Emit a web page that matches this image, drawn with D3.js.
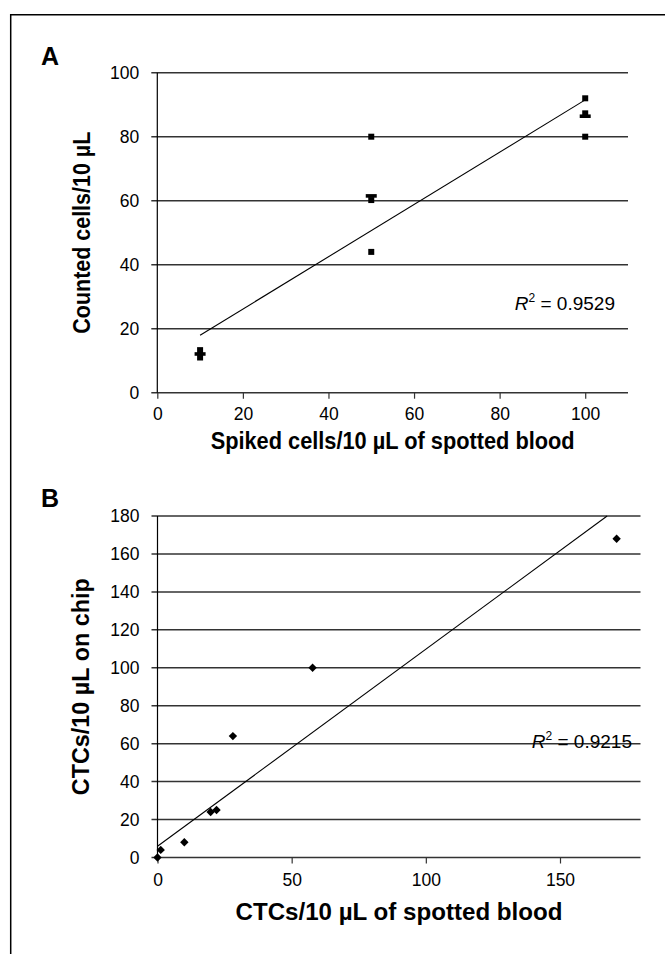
<!DOCTYPE html>
<html><head><meta charset="utf-8">
<script src="https://cdn.jsdelivr.net/npm/d3@7"></script>
<style>
html,body{margin:0;padding:0;background:#fff;}
svg{display:block;font-family:"Liberation Sans",Arial,Helvetica,sans-serif;}
</style></head>
<body>
<svg id="c" width="665" height="954"></svg>
<script>
// ---------- Panel A data ----------
const aX = [10, 10, 10, 50, 50, 50, 50, 100, 100, 100, 100];
const aY = [13.3, 11.0, 12.1, 80, 61.5, 60.2, 44, 92, 87.3, 86.4, 80];
const aMarker = ["square","square","dash","square","dash","square","square","square","square","dash","square"];
const aXTicks = [0, 20, 40, 60, 80, 100];
const aYTicks = [0, 20, 40, 60, 80, 100];
const aXDomain = [0, 110];
const aYDomain = [0, 100];
const aFitSlope = 0.817, aFitIntercept = 9.8, aFitRange = [10, 100];
const aR2 = "0.9529";

// ---------- Panel B data ----------
const bX = [0, 1.2, 10, 19.8, 22, 28.1, 57.8, 171.1];
const bY = [0, 4, 8, 24, 25, 64, 100, 168];
const bXTicks = [0, 50, 100, 150];
const bYTicks = [0, 20, 40, 60, 80, 100, 120, 140, 160, 180];
const bXDomain = [0, 180];
const bYDomain = [0, 180];
const bFitSlope = 1.039, bFitIntercept = 5.9;
const bR2 = "0.9215";

const svg = d3.select("#c");

// outer frame (left and top edges)
svg.append("path").attr("d", "M10.7,954 L10.7,14.7 L665,14.7")
  .attr("fill", "none").attr("stroke", "#000").attr("stroke-width", 1.5);

function panel(cfg) {
  const x = d3.scaleLinear().domain(cfg.xDomain).range(cfg.xRange);
  const y = d3.scaleLinear().domain(cfg.yDomain).range(cfg.yRange);
  const g = svg.append("g");

  // horizontal gridlines (extend left as tick marks)
  g.selectAll("line.grid").data(cfg.yTicks).enter().append("line")
    .attr("x1", cfg.xRange[0] - 6).attr("x2", cfg.xRange[1])
    .attr("y1", d => y(d)).attr("y2", d => y(d))
    .attr("stroke", "#333").attr("stroke-width", 1.5);

  // y axis labels
  const ya = g.append("g").attr("transform", `translate(${cfg.xRange[0]},0)`)
    .call(d3.axisLeft(y).tickValues(cfg.yTicks).tickSize(0).tickPadding(18).tickFormat(d3.format("d")));
  ya.select(".domain").remove();
  ya.selectAll("text").attr("font-size", 17.5).attr("fill", "#000")
    .attr("font-family", '"Liberation Sans",Arial,sans-serif');

  // y axis line
  g.append("line").attr("x1", cfg.xRange[0]).attr("x2", cfg.xRange[0])
    .attr("y1", cfg.yRange[1]).attr("y2", cfg.yRange[0])
    .attr("stroke", "#000").attr("stroke-width", 1.2);

  // x axis ticks + labels
  const xa = g.append("g").attr("transform", `translate(0,${cfg.yRange[0]})`)
    .call(d3.axisBottom(x).tickValues(cfg.xTicks).tickSize(6).tickPadding(cfg.xPad).tickFormat(d3.format("d")));
  xa.select(".domain").remove();
  xa.selectAll("line").attr("stroke", "#333").attr("stroke-width", 1.2);
  xa.selectAll("text").attr("font-size", 17.5).attr("fill", "#000")
    .attr("font-family", '"Liberation Sans",Arial,sans-serif');

  // trend line
  g.append("line")
    .attr("x1", x(cfg.fitRange[0])).attr("y1", y(cfg.fitSlope * cfg.fitRange[0] + cfg.fitIntercept))
    .attr("x2", x(cfg.fitRange[1])).attr("y2", y(cfg.fitSlope * cfg.fitRange[1] + cfg.fitIntercept))
    .attr("stroke", "#000").attr("stroke-width", 1.1);

  // markers
  const pts = cfg.xs.map((v, i) => ({x: v, y: cfg.ys[i], m: cfg.markers ? cfg.markers[i] : "diamond"}));
  g.selectAll("path.pt").data(pts).enter().append("path")
    .attr("transform", d => `translate(${x(d.x)},${y(d.y)})`)
    .attr("d", d => {
      if (d.m === "square") return "M-3,-3H3V3H-3Z";
      if (d.m === "dash") return "M-5.5,-1.8H5.5V1.8H-5.5Z";
      return "M0,-4.2L4.2,0L0,4.2L-4.2,0Z";
    })
    .attr("fill", "#000");

  // R² label
  const t = g.append("text").attr("x", cfg.r2Pos[0]).attr("y", cfg.r2Pos[1])
    .attr("text-anchor", "end").attr("font-size", 19).attr("fill", "#000");
  t.append("tspan").attr("font-style", "italic").text("R");
  t.append("tspan").attr("font-size", 12).attr("dy", -8).text("2");
  t.append("tspan").attr("dy", 8).text(" = " + cfg.r2);

  // panel letter
  g.append("text").attr("x", cfg.letterPos[0]).attr("y", cfg.letterPos[1])
    .attr("font-size", 25).attr("font-weight", "bold").text(cfg.letter);

  // x title
  g.append("text").attr("x", (cfg.xRange[0] + cfg.xRange[1]) / 2).attr("y", cfg.xTitleY)
    .attr("text-anchor", "middle").attr("font-size", 23).attr("font-weight", "bold")
    .attr("textLength", cfg.xTitleLen).attr("lengthAdjust", "spacingAndGlyphs")
    .text(cfg.xTitle);

  // y title
  g.append("text")
    .attr("transform", `translate(${cfg.yTitleX},${(cfg.yRange[0] + cfg.yRange[1]) / 2}) rotate(-90)`)
    .attr("text-anchor", "middle").attr("font-size", 23).attr("font-weight", "bold")
    .attr("textLength", cfg.yTitleLen).attr("lengthAdjust", "spacingAndGlyphs")
    .text(cfg.yTitle);
}

panel({
  xs: aX, ys: aY, markers: aMarker,
  xDomain: aXDomain, yDomain: aYDomain,
  xRange: [157.3, 628], yRange: [392.7, 72.7],
  xTicks: aXTicks, yTicks: aYTicks, xPad: 9,
  fitSlope: aFitSlope, fitIntercept: aFitIntercept, fitRange: aFitRange,
  r2: aR2, r2Pos: [615, 310],
  letter: "A", letterPos: [41, 65],
  xTitle: "Spiked cells/10 µL of spotted blood", xTitleY: 449, xTitleLen: 364,
  yTitle: "Counted cells/10 µL", yTitleX: 90, yTitleLen: 202
});

panel({
  xs: bX, ys: bY, markers: null,
  xDomain: bXDomain, yDomain: bYDomain,
  xRange: [157.5, 640.5], yRange: [857.5, 516],
  xTicks: bXTicks, yTicks: bYTicks, xPad: 10.5,
  fitSlope: bFitSlope, fitIntercept: bFitIntercept,
  fitRange: [0, (bYDomain[1] - bFitIntercept) / bFitSlope],
  r2: bR2, r2Pos: [632, 748],
  letter: "B", letterPos: [41, 507],
  xTitle: "CTCs/10 µL of spotted blood", xTitleY: 920, xTitleLen: 327,
  yTitle: "CTCs/10 µL on chip", yTitleX: 89, yTitleLen: 217
});
</script>
</body></html>
